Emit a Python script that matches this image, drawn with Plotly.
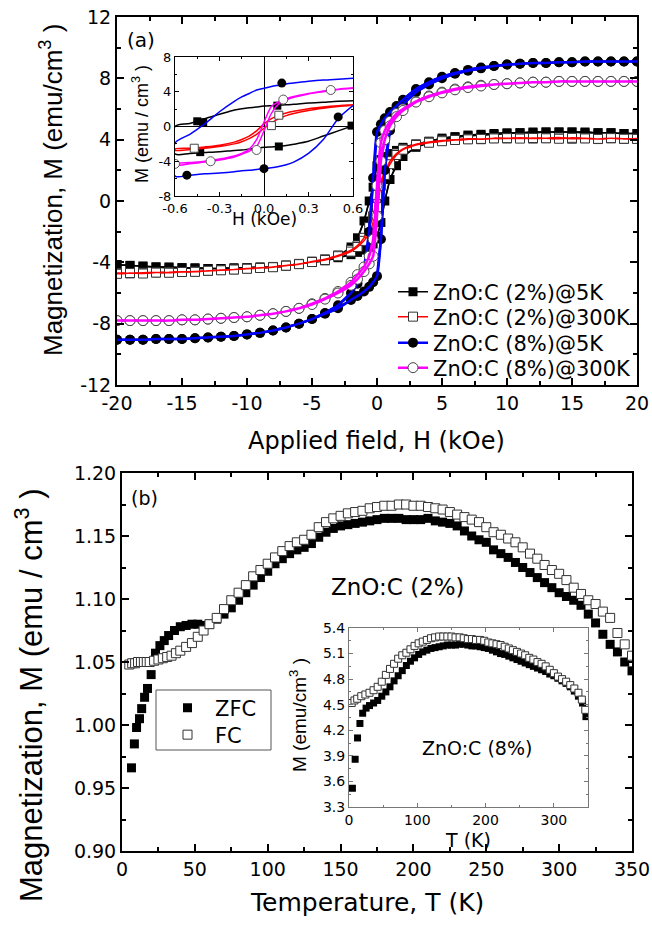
import plotly.graph_objects as go

# ---------------- DATA: panel (a) main hysteresis loops ----------------
H_MAIN = [-20, -19, -18, -17, -16, -15, -14, -13, -12, -11, -10, -9, -8, -7, -6, -5, -4, -3, -2,
          -1.5, -1, -0.6, -0.3, 0, 0.3, 0.6, 1, 1.5,
          2, 3, 4, 5, 6, 7, 8, 9, 10, 11, 12, 13, 14, 15, 16, 17, 18, 19, 20]

C2_5K_UP = [-4.15, -4.2, -4.25, -4.3, -4.3, -4.35, -4.35, -4.4, -4.4, -4.4, -4.35, -4.35, -4.3, -4.25, -4.1, -4.0, -3.85, -3.6, -3.0,
            -2.4, -1.3, 0.0, 0.9, 2.3, 2.7, 2.9, 3.1, 3.3,
            3.5, 3.7, 3.9, 4.1, 4.2, 4.3, 4.35, 4.4, 4.45, 4.45, 4.5, 4.5, 4.5, 4.5, 4.5, 4.45, 4.45, 4.4, 4.4]
C2_5K_DN = [-4.15, -4.2, -4.25, -4.3, -4.35, -4.35, -4.4, -4.4, -4.4, -4.35, -4.35, -4.3, -4.3, -4.2, -4.1, -4.0, -3.9, -3.7, -3.5,
            -3.35, -3.2, -3.05, -2.8, -2.3, -1.4, 0.0, 1.4, 2.3,
            2.9, 3.5, 3.8, 4.0, 4.15, 4.25, 4.3, 4.35, 4.4, 4.45, 4.45, 4.5, 4.5, 4.5, 4.45, 4.45, 4.45, 4.4, 4.4]

C2_300K_UP = [-4.7, -4.72, -4.68, -4.66, -4.65, -4.62, -4.6, -4.56, -4.5, -4.46, -4.4, -4.36, -4.3, -4.2, -4.1, -3.95, -3.8, -3.55, -3.2,
              -2.9, -2.4, -1.7, -1.0, 0.4, 1.3, 1.9, 2.6, 3.1,
              3.4, 3.7, 3.85, 3.95, 4.0, 4.06, 4.03, 4.1, 4.08, 4.12, 4.07, 4.1, 4.14, 4.06, 4.1, 4.04, 4.09, 4.05, 4.07]
C2_300K_DN = [-4.75, -4.7, -4.73, -4.67, -4.68, -4.63, -4.62, -4.55, -4.52, -4.47, -4.42, -4.37, -4.32, -4.22, -4.12, -3.98, -3.85, -3.6, -3.3,
              -3.0, -2.6, -2.1, -1.4, -0.4, 1.0, 1.7, 2.4, 3.0,
              3.35, 3.65, 3.8, 3.9, 3.98, 4.02, 4.05, 4.08, 4.1, 4.07, 4.11, 4.09, 4.06, 4.12, 4.08, 4.05, 4.1, 4.06, 4.05]

C8_5K_UP = [-9.05, -9.05, -9.05, -9.0, -9.0, -9.0, -8.95, -8.9, -8.85, -8.8, -8.7, -8.6, -8.45, -8.25, -8.0, -7.7, -7.3, -6.8, -6.0,
            -5.4, -4.4, -2.0, 1.5, 4.5, 5.0, 5.4, 5.8, 6.2,
            6.6, 7.3, 7.75, 8.1, 8.35, 8.55, 8.7, 8.8, 8.9, 8.95, 9.0, 9.0, 9.05, 9.05, 9.1, 9.1, 9.1, 9.1, 9.1]
C8_5K_DN = [-9.05, -9.05, -9.05, -9.0, -9.0, -9.0, -8.95, -8.9, -8.85, -8.8, -8.7, -8.6, -8.45, -8.25, -8.0, -7.7, -7.35, -7.0, -6.45,
            -6.2, -5.9, -5.6, -5.3, -4.9, -2.5, 2.0, 4.6, 5.7,
            6.3, 7.1, 7.6, 8.0, 8.3, 8.5, 8.65, 8.8, 8.9, 8.95, 9.0, 9.0, 9.05, 9.05, 9.1, 9.1, 9.1, 9.1, 9.1]

C8_300K_UP = [-7.8, -7.8, -7.8, -7.8, -7.8, -7.75, -7.75, -7.7, -7.65, -7.6, -7.55, -7.45, -7.35, -7.2, -7.0, -6.7, -6.35, -5.9, -5.3,
              -4.8, -4.3, -3.6, -2.5, 1.0, 3.8, 4.6, 5.2, 5.7,
              6.0, 6.5, 6.85, 7.1, 7.3, 7.45, 7.55, 7.6, 7.65, 7.7, 7.75, 7.75, 7.8, 7.8, 7.8, 7.8, 7.8, 7.8, 7.8]
C8_300K_DN = [-7.8, -7.8, -7.8, -7.8, -7.8, -7.75, -7.75, -7.7, -7.65, -7.6, -7.55, -7.45, -7.35, -7.2, -7.0, -6.75, -6.4, -6.0, -5.5,
              -5.1, -4.6, -4.1, -3.6, -1.0, 2.6, 4.0, 4.9, 5.5,
              5.9, 6.45, 6.8, 7.05, 7.25, 7.4, 7.5, 7.6, 7.65, 7.7, 7.75, 7.75, 7.8, 7.8, 7.8, 7.8, 7.8, 7.8, 7.8]

SERIES_A = ["ZnO:C (2%)@5K", "ZnO:C (2%)@300K", "ZnO:C (8%)@5K", "ZnO:C (8%)@300K"]

# ---------------- DATA: panel (a) inset (low field) ----------------
H_INS = [-0.6, -0.5, -0.4, -0.3, -0.2, -0.15, -0.1, -0.05, 0, 0.05, 0.1, 0.15, 0.2, 0.3, 0.4, 0.5, 0.6]
I2_5K_UP = [0.0, 0.35, 0.9, 1.4, 1.9, 2.05, 2.15, 2.25, 2.35, 2.4, 2.45, 2.5, 2.55, 2.7, 2.8, 2.9, 2.95]
I2_5K_DN = [-3.15, -3.1, -3.0, -2.9, -2.75, -2.7, -2.6, -2.5, -2.4, -2.35, -2.3, -2.2, -2.05, -1.7, -1.1, -0.5, 0.1]
I2_300K_UP = [-2.6, -2.5, -2.35, -2.15, -1.8, -1.5, -1.1, -0.5, 0.3, 0.9, 1.3, 1.55, 1.75, 2.05, 2.25, 2.4, 2.5]
I2_300K_DN = [-2.75, -2.65, -2.5, -2.3, -2.0, -1.75, -1.4, -0.9, -0.2, 0.4, 0.9, 1.25, 1.5, 1.85, 2.1, 2.3, 2.45]
I8_5K_UP = [-1.9, -0.9, 0.3, 1.7, 2.9, 3.4, 3.8, 4.2, 4.4, 4.6, 4.75, 4.9, 5.0, 5.2, 5.35, 5.45, 5.55]
I8_5K_DN = [-5.7, -5.6, -5.45, -5.35, -5.2, -5.1, -5.05, -4.95, -4.85, -4.75, -4.6, -4.4, -4.1, -3.1, -1.5, 0.9, 2.4]
I8_300K_UP = [-4.3, -4.15, -4.0, -3.75, -3.4, -3.1, -2.6, -1.5, 0.5, 2.3, 2.85, 3.2, 3.45, 3.8, 4.1, 4.3, 4.45]
I8_300K_DN = [-4.45, -4.3, -4.1, -3.85, -3.5, -3.2, -2.85, -2.3, -0.5, 1.5, 2.6, 3.05, 3.35, 3.75, 4.0, 4.25, 4.4]

MK2_5K_H = [-0.45, -0.41, 0.09, -0.43, 0.1, 0.59]
MK2_5K_M = [0.6, 0.5, 2.4, -2.95, -2.3, 0.1]
MK2_300K_H = [-0.47, 0.05, 0.1]
MK2_300K_M = [-2.5, 0.1, 1.3]
MK8_5K_H = [0.12, -0.52, 0.0, 0.5]
MK8_5K_M = [5.0, -5.6, -4.85, 1.1]
MK8_300K_H = [-0.6, -0.36, -0.05, 0.13, 0.45]
MK8_300K_M = [-4.3, -4.0, -2.7, 3.1, 4.2]

# ---------------- DATA: panel (b) ZFC / FC, ZnO:C (2%) ----------------
T_ZFC = [6.5, 8.5, 10, 12, 13.5, 15.5, 17.5, 20, 23, 26, 29, 32, 36, 40, 44, 48, 52, 56, 60,
         65, 70, 75, 80, 85, 90, 95, 100, 105, 110, 115, 120, 125, 130, 135, 140, 145, 150,
         155, 160, 165, 170, 175, 180, 185, 190, 195, 200, 205, 210, 215, 220, 225, 230, 235, 240, 245, 250,
         255, 260, 265, 270, 275, 280, 285, 290, 295, 300, 305, 310, 315, 320, 325, 330, 335, 340, 345, 350]
M_ZFC = [0.966, 0.985, 0.998, 1.005, 1.013, 1.022, 1.029, 1.040, 1.057, 1.063, 1.067, 1.071, 1.075, 1.078, 1.079, 1.080, 1.080, 1.079, 1.080,
         1.084, 1.088, 1.093, 1.099, 1.105, 1.111, 1.117, 1.122,
         1.128, 1.132, 1.136, 1.139, 1.141, 1.144, 1.149, 1.153, 1.156, 1.158,
         1.159, 1.160, 1.161, 1.162, 1.163, 1.164, 1.164, 1.164, 1.163, 1.163,
         1.163, 1.164, 1.162, 1.161, 1.160, 1.158, 1.154, 1.150, 1.147, 1.145,
         1.139, 1.136, 1.133, 1.129, 1.125, 1.121, 1.117, 1.113, 1.109, 1.105,
         1.102, 1.099, 1.095, 1.088, 1.081, 1.072, 1.064, 1.058, 1.050, 1.043]
T_FC = [5, 7, 9, 11, 13, 15, 17, 19, 22, 25, 28, 31, 34, 37, 40, 44, 48, 52, 56, 60,
        65, 70, 75, 80, 85, 90, 95, 100, 105, 110, 115, 120, 125, 130, 135, 140, 145, 150,
        155, 160, 165, 170, 175, 180, 185, 190, 195, 200, 205, 210, 215, 220, 225, 230, 235, 240, 245, 250,
        255, 260, 265, 270, 275, 280, 285, 290, 295, 300, 305, 310, 315, 320, 325, 330, 335, 340, 345, 350]
M_FC = [1.048, 1.049, 1.049, 1.050, 1.050, 1.050, 1.050, 1.050, 1.051, 1.052, 1.053, 1.054, 1.055, 1.057, 1.059, 1.062, 1.065, 1.070, 1.075, 1.080,
        1.085, 1.092, 1.099, 1.105, 1.111, 1.118, 1.123, 1.128,
        1.133, 1.138, 1.142, 1.145, 1.147, 1.151, 1.157, 1.161, 1.164, 1.166,
        1.168, 1.169, 1.170, 1.172, 1.173, 1.174, 1.174, 1.175, 1.175, 1.174,
        1.174, 1.173, 1.172, 1.171, 1.169, 1.167, 1.165, 1.163, 1.161, 1.157,
        1.153, 1.151, 1.148, 1.145, 1.141, 1.136, 1.132, 1.127, 1.123, 1.120,
        1.115, 1.109, 1.104, 1.099, 1.096, 1.090, 1.085, 1.073, 1.064, 1.055]
SERIES_B = ["ZFC", "FC"]

# ---------------- DATA: panel (b) inset, ZnO:C (8%) ----------------
T_ZFC_INS = [5, 9, 12.5, 16, 20, 25, 30, 36, 42, 48, 54, 60, 66, 72, 78, 84, 90, 96, 102, 108, 114, 120,
             126, 132, 138, 144, 150, 156, 162, 168, 174, 180, 186, 192, 198, 204, 210, 216, 222, 228, 234, 240,
             246, 252, 258, 264, 270, 276, 282, 288, 294, 300, 306, 312, 318, 324, 330, 336, 342, 347]
M_ZFC_INS = [3.52, 3.86, 4.11, 4.28, 4.40, 4.46, 4.49, 4.52, 4.55, 4.60, 4.65, 4.71,
             4.78, 4.84, 4.90, 4.96, 5.01, 5.05, 5.09, 5.12, 5.14, 5.16,
             5.17, 5.18, 5.19, 5.20, 5.20, 5.20, 5.21, 5.21, 5.20, 5.19,
             5.19, 5.18, 5.17, 5.16, 5.14, 5.12, 5.10, 5.09, 5.07, 5.05,
             5.03, 5.01, 4.99, 4.97, 4.95, 4.93, 4.91, 4.89, 4.86, 4.84,
             4.81, 4.78, 4.75, 4.71, 4.66, 4.60, 4.52, 4.36]
T_FC_INS = [4, 8, 12, 18, 24, 30, 36, 42, 48, 54, 60, 66, 72, 78, 84, 90, 96, 102, 108, 114, 120,
            126, 132, 138, 144, 150, 156, 162, 168, 174, 180, 186, 192, 198, 204, 210, 216, 222, 228, 234, 240,
            246, 252, 258, 264, 270, 276, 282, 288, 294, 300, 306, 312, 318, 324, 330, 336, 341, 346]
M_FC_INS = [4.52, 4.55, 4.57, 4.60, 4.62, 4.64, 4.67, 4.71, 4.77, 4.85, 4.92,
            4.98, 5.04, 5.08, 5.11, 5.15, 5.19, 5.22, 5.24, 5.26, 5.28,
            5.29, 5.30, 5.30, 5.30, 5.30, 5.29, 5.29, 5.28, 5.27, 5.27,
            5.26, 5.26, 5.25, 5.23, 5.22, 5.21, 5.20, 5.18, 5.16, 5.14,
            5.12, 5.10, 5.08, 5.05, 5.03, 5.00, 4.98, 4.95, 4.91, 4.87,
            4.83, 4.80, 4.77, 4.73, 4.69, 4.64, 4.56, 4.44]

# ---------------- tick labels ----------------
A_X_TICKS = [-20, -15, -10, -5, 0, 5, 10, 15, 20]
A_X_LABELS = ["-20", "-15", "-10", "-5", "0", "5", "10", "15", "20"]
A_Y_TICKS = [-12, -8, -4, 0, 4, 8, 12]
A_Y_LABELS = ["-12", "-8", "-4", "0", "4", "8", "12"]
AI_X_TICKS = [-0.6, -0.3, 0.0, 0.3, 0.6]
AI_X_LABELS = ["-0.6", "-0.3", "0.0", "0.3", "0.6"]
AI_Y_TICKS = [-8, -4, 0, 4, 8]
AI_Y_LABELS = ["-8", "-4", "0", "4", "8"]
B_X_TICKS = [0, 50, 100, 150, 200, 250, 300, 350]
B_X_LABELS = ["0", "50", "100", "150", "200", "250", "300", "350"]
B_Y_TICKS = [0.90, 0.95, 1.00, 1.05, 1.10, 1.15, 1.20]
B_Y_LABELS = ["0.90", "0.95", "1.00", "1.05", "1.10", "1.15", "1.20"]
BI_X_TICKS = [0, 100, 200, 300]
BI_X_LABELS = ["0", "100", "200", "300"]
BI_Y_TICKS = [3.3, 3.6, 3.9, 4.2, 4.5, 4.8, 5.1, 5.4]
BI_Y_LABELS = ["3.3", "3.6", "3.9", "4.2", "4.5", "4.8", "5.1", "5.4"]

# ---------------- layout helpers ----------------
W, H = 652, 928


def fx(p):
    return p / W


def fy(p):
    return 1 - p / H


HFONT = "DejaVu Sans"
VFONT = "Liberation Sans, Arial"
LEG_A = ["legend", "legend3", "legend4", "legend5"]
LEG_B = ["legend2", "legend6"]

fig = go.Figure()

# ---- panel (a) main traces ----
styles_a = [
    (C2_5K_UP, C2_5K_DN, "#000000", 1.5, dict(symbol="square", size=9, color="#000000")),
    (C2_300K_UP, C2_300K_DN, "#ff0000", 1.5, dict(symbol="square", size=9, color="white", line=dict(color="#333333", width=1))),
    (C8_5K_UP, C8_5K_DN, "#0000ff", 2.5, dict(symbol="circle", size=10, color="#000000")),
    (C8_300K_UP, C8_300K_DN, "#ff00ff", 2.5, dict(symbol="circle", size=10, color="white", line=dict(color="#444444", width=1))),
]
for name, lg, (up, dn, col, lw, mk) in zip(SERIES_A, LEG_A, styles_a):
    xs = H_MAIN[::-1] + H_MAIN
    ys = up[::-1] + dn
    fig.add_trace(go.Scatter(x=xs, y=ys, mode="lines+markers", name=name,
                             line=dict(color=col, width=lw), marker=mk,
                             xaxis="x", yaxis="y", legend=lg))
    fig.add_trace(go.Scatter(x=xs, y=ys, mode="lines", showlegend=False,
                             line=dict(color=col, width=lw, shape="spline", smoothing=0.6),
                             xaxis="x", yaxis="y", hoverinfo="skip"))

# ---- panel (a) inset ----
styles_ai = [
    (I2_5K_UP, I2_5K_DN, MK2_5K_H, MK2_5K_M, "#000000", dict(symbol="square", size=8, color="#000000")),
    (I2_300K_UP, I2_300K_DN, MK2_300K_H, MK2_300K_M, "#ff0000", dict(symbol="square", size=8, color="white", line=dict(color="#444444", width=1))),
    (I8_5K_UP, I8_5K_DN, MK8_5K_H, MK8_5K_M, "#0000ff", dict(symbol="circle", size=9, color="#000000")),
    (I8_300K_UP, I8_300K_DN, MK8_300K_H, MK8_300K_M, "#ff00ff", dict(symbol="circle", size=9, color="white", line=dict(color="#555555", width=1))),
]
for up, dn, mh, mm, col, mk in styles_ai:
    fig.add_trace(go.Scatter(x=H_INS[::-1] + H_INS, y=up[::-1] + dn, mode="lines", showlegend=False,
                             line=dict(color=col, width=1.5, shape="spline", smoothing=0.8),
                             xaxis="x2", yaxis="y2", hoverinfo="skip"))
    fig.add_trace(go.Scatter(x=mh, y=mm, mode="markers", showlegend=False, marker=mk,
                             xaxis="x2", yaxis="y2", hoverinfo="skip"))

# ---- panel (b) main ----
fig.add_trace(go.Scatter(x=T_ZFC, y=M_ZFC, mode="markers", name=SERIES_B[0],
                         marker=dict(symbol="square", size=9, color="#000000"),
                         xaxis="x3", yaxis="y3", legend=LEG_B[0]))
fig.add_trace(go.Scatter(x=T_FC, y=M_FC, mode="markers", name=SERIES_B[1],
                         marker=dict(symbol="square", size=9, color="white", line=dict(color="#333333", width=1)),
                         xaxis="x3", yaxis="y3", legend=LEG_B[1]))

# ---- panel (b) inset ----
fig.add_trace(go.Scatter(x=T_ZFC_INS, y=M_ZFC_INS, mode="markers", showlegend=False,
                         marker=dict(symbol="square", size=7, color="#000000"),
                         xaxis="x4", yaxis="y4"))
fig.add_trace(go.Scatter(x=T_FC_INS, y=M_FC_INS, mode="markers", showlegend=False,
                         marker=dict(symbol="square", size=7, color="white", line=dict(color="#333333", width=1)),
                         xaxis="x4", yaxis="y4"))


def axis(domain, rng, anchor, tv, tt, fsize, minor_dtick, main=True, color="black", zl=False):
    return dict(domain=domain, range=rng, anchor=anchor, tickmode="array", tickvals=tv, ticktext=tt,
                ticks="inside", ticklen=7 if main else 4, tickwidth=1.5 if main else 1, tickcolor=color,
                showline=True, linewidth=2 if main else 1, linecolor=color, mirror="ticks",
                showgrid=False, zeroline=zl, zerolinecolor="#000000", zerolinewidth=1,
                automargin=False,
                tickfont=dict(family=HFONT, size=fsize, color="black"),
                minor=dict(tickmode="linear", tick0=0, dtick=minor_dtick, ticks="inside",
                           ticklen=4 if main else 2, tickwidth=1.5 if main else 1, tickcolor=color, showgrid=False),
                fixedrange=True)


def leg(xpx, ypx, itemwidth=30):
    return dict(x=fx(xpx), y=fy(ypx), xanchor="left", yanchor="middle", bgcolor="rgba(0,0,0,0)",
                borderwidth=0, itemwidth=itemwidth, font=dict(family=HFONT, size=21, color="black"))


fig.update_layout(
    template="none",
    width=W, height=H, autosize=False,
    margin=dict(l=0, r=0, t=0, b=0, pad=0, autoexpand=False),
    paper_bgcolor="white", plot_bgcolor="white",
    xaxis=axis([fx(117), fx(637)], [-20, 20], "y", A_X_TICKS, A_X_LABELS, 19, 2.5),
    yaxis=axis([fy(385), fy(17)], [-12, 12], "x", A_Y_TICKS, A_Y_LABELS, 19, 2),
    xaxis2=axis([fx(175), fx(353)], [-0.6, 0.6], "y2", AI_X_TICKS, AI_X_LABELS, 13, 0.15, main=False, zl=True),
    yaxis2=axis([fy(196), fy(57)], [-8, 8], "x2", AI_Y_TICKS, AI_Y_LABELS, 13, 2, main=False, zl=True),
    xaxis3=axis([fx(122), fx(632)], [0, 350], "y3", B_X_TICKS, B_X_LABELS, 19, 25),
    yaxis3=axis([fy(851), fy(473)], [0.9, 1.2], "x3", B_Y_TICKS, B_Y_LABELS, 19, 0.025),
    xaxis4=axis([fx(349), fx(588)], [0, 350], "y4", BI_X_TICKS, BI_X_LABELS, 14, 50, main=False, color="#777777"),
    yaxis4=axis([fy(807), fy(628)], [3.3, 5.4], "x4", BI_Y_TICKS, BI_Y_LABELS, 14, 0.15, main=False, color="#777777"),
    legend=leg(393, 292),
    legend3=leg(393, 317),
    legend4=leg(393, 343),
    legend5=leg(393, 368),
    legend2=leg(160, 708, 45),
    legend6=leg(160, 735, 45),
    showlegend=True,
    shapes=[dict(type="rect", xref="paper", yref="paper", x0=fx(156), x1=fx(271), y0=fy(750), y1=fy(690),
                 line=dict(color="#555555", width=1), fillcolor="rgba(0,0,0,0)", layer="below")],
)

ann = [
    dict(text="(a)", x=fx(141), y=fy(40), font=dict(family=HFONT, size=20)),
    dict(text="(b)", x=fx(144), y=fy(498), font=dict(family=HFONT, size=19)),
    dict(text="ZnO:C (2%)", x=fx(398), y=fy(587), font=dict(family=HFONT, size=23)),
    dict(text="ZnO:C (8%)", x=fx(477), y=fy(748), font=dict(family=HFONT, size=19)),
    dict(text="Applied field, H (kOe)", x=fx(376), y=fy(441), font=dict(family=HFONT, size=24)),
    dict(text="Temperature, T (K)", x=fx(367), y=fy(902), font=dict(family=HFONT, size=25)),
    dict(text="H (kOe)", x=fx(264), y=fy(219), font=dict(family=HFONT, size=17)),
    dict(text="T (K)", x=fx(468), y=fy(840), font=dict(family=HFONT, size=19)),
    dict(text="Magnetization, M (emu/cm<sup>3</sup> )", x=fx(51), y=fy(190), textangle=-90,
         font=dict(family=VFONT, size=26)),
    dict(text="Magnetization, M (emu / cm<sup>3</sup> )", x=fx(29), y=fy(696), textangle=-90,
         font=dict(family=VFONT, size=31)),
    dict(text="M (emu / cm<sup>3</sup> )", x=fx(141), y=fy(124), textangle=-90,
         font=dict(family=VFONT, size=18)),
    dict(text="M (emu/cm<sup>3</sup> )", x=fx(298), y=fy(715), textangle=-90,
         font=dict(family=VFONT, size=19)),
]
for a in ann:
    a.update(xref="paper", yref="paper", showarrow=False, xanchor="center", yanchor="middle")
    a["font"]["color"] = "black"
fig.update_layout(annotations=ann)

fig.write_html("out.html")
